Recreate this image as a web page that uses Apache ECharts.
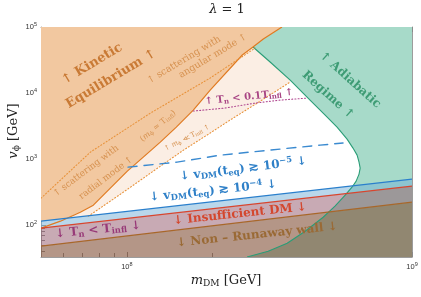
<!DOCTYPE html>
<html>
<head>
<meta charset="utf-8">
<script src="https://cdn.jsdelivr.net/npm/echarts@6.0.0/dist/echarts.min.js"></script>
<style>html,body{margin:0;padding:0;background:#fff;}#chart{width:421px;height:297px;}</style>
</head>
<body>
<div id="chart"></div>
<script>
// ---- axis ranges and ticks (GeV) ----
const xRange = [5e7, 1e9];
const yRange = [33, 1e5];
const xMajorTicks = [1e8, 1e9];
const xMinorTicks = [6e7, 7e7, 8e7, 9e7, 2e8, 3e8, 4e8, 5e8, 6e8, 7e8, 8e8, 9e8];
const yMajorTicks = [1e2, 1e3, 1e4, 1e5];
const yMinorTicks = [40, 50, 60, 70, 80, 90, 200, 300, 400, 500, 600, 700, 800, 900,
  2e3, 3e3, 4e3, 5e3, 6e3, 7e3, 8e3, 9e3, 2e4, 3e4, 4e4, 5e4, 6e4, 7e4, 8e4, 9e4];

// ---- boundary curves: [m_DM (GeV), v_phi (GeV)] ----
const kineticEdge = [[5.0e7, 90], [5.85e7, 115], [6.87e7, 157], [7.63e7, 201], [8.75e7, 364],
  [1.004e8, 658], [1.142e8, 1072], [1.31e8, 1811], [1.491e8, 3054], [1.71e8, 5530],
  [1.96e8, 1.11e4], [2.54e8, 3.77e4], [2.77e8, 4.98e4], [3.01e8, 6.58e4], [3.50e8, 1e5]];
const kineticMeetsVdm4 = [6.16e7, 127];   // where the kinetic edge crosses the v_DM 1e-4 line
const mphiEqTinfl = [[5.0e7, 256], [7.45e7, 1276], [1.21e8, 4980], [1.96e8, 1.69e4], [2.82e8, 4.81e4]];
const mphiLlTinfl = [[7.33e7, 137], [8.75e7, 231], [1.03e8, 376], [1.21e8, 614], [1.58e8, 1370],
  [1.91e8, 2310], [2.30e8, 3900], [2.94e8, 7560], [3.74e8, 1.47e4]];
const tnTenthTinfl = [[1.71e8, 5340], [2.21e8, 5930], [2.82e8, 7050], [3.45e8, 7830], [4.29e8, 8390]];
const adiabaticEdge = [[2.77e8, 4.98e4], [3.18e8, 2.95e4], [3.74e8, 1.57e4], [4.39e8, 7830],
  [4.96e8, 4640], [5.46e8, 3050], [5.92e8, 2010], [6.21e8, 1470], [6.42e8, 1150], [6.52e8, 901],
  [6.58e8, 731], [6.52e8, 593], [6.37e8, 464], [6.16e8, 376], [5.83e8, 285], [5.37e8, 194],
  [4.88e8, 132], [4.22e8, 81.1], [3.65e8, 53.4], [3.13e8, 40.4], [2.64e8, 33]];
const vdm5Edge = [[1.01e8, 757], [1.50e8, 901], [2.13e8, 1150], [3.18e8, 1370], [4.76e8, 1630], [5.73e8, 1750]];
const vdm4Edge = [[5e7, 115], [1e9, 498]];
const insufficientEdge = [[5e7, 90], [1e9, 390]];
const runawayEdge = [[5e7, 48.1], [1e9, 223]];

const lg = Math.log10;
const SERIF = '"DejaVu Serif", "Liberation Serif", serif';

function area(pts, fill, z) {
  const lp = pts.map(p => [lg(p[0]), lg(p[1])]);
  return {
    type: 'custom', coordinateSystem: 'cartesian2d', xAxisIndex: 0, yAxisIndex: 0,
    clip: true, silent: true, z: z, data: [lp[0]],
    renderItem: (params, api) => ({
      type: 'polygon', shape: { points: lp.map(p => api.coord(p)) }, style: { fill: fill }
    })
  };
}
function curve(pts, stroke, width, dash, z) {
  const lp = pts.map(p => [lg(p[0]), lg(p[1])]);
  return {
    type: 'custom', coordinateSystem: 'cartesian2d', xAxisIndex: 0, yAxisIndex: 0,
    clip: true, silent: true, z: z, data: [lp[0]],
    renderItem: (params, api) => ({
      type: 'polyline', shape: { points: lp.map(p => api.coord(p)) },
      style: { stroke: stroke, lineWidth: width, lineDash: dash || null, fill: null,
        lineCap: dash ? 'round' : 'butt', lineJoin: 'round' }
    })
  };
}

// polygons built from the curves
const kineticPoly = [[xRange[0], yRange[1]]].concat(kineticEdge.slice(2).reverse())
  .concat([kineticMeetsVdm4, vdm4Edge[0]]);
const peachPoly = [kineticMeetsVdm4].concat(kineticEdge.slice(2, 13)).concat(adiabaticEdge.slice(1, 3))
  .concat(mphiLlTinfl.slice().reverse());
const adiabaticPoly = adiabaticEdge.concat([[xRange[1], yRange[0]], [xRange[1], yRange[1]],
  kineticEdge[14], kineticEdge[13]]);
const bluePoly = [vdm4Edge[0], vdm4Edge[1], insufficientEdge[1], insufficientEdge[0]];
const mauvePoly = [insufficientEdge[0], insufficientEdge[1], runawayEdge[1], runawayEdge[0]];
const brownPoly = [runawayEdge[0], runawayEdge[1], [xRange[1], yRange[0]], [xRange[0], yRange[0]]];

function axis(pos, range, ticks, len, main, labels) {
  const o = {
    type: 'value', position: pos, min: lg(range[0]), max: lg(range[1]),
    splitLine: { show: false },
    axisLine: { show: main, onZero: false, lineStyle: { color: '#9c9c9c', width: 1 } },
    axisTick: { show: true, inside: true, length: len, customValues: ticks.map(lg),
      lineStyle: { color: '#8a8a8a', width: 1 } },
    axisLabel: { show: false }
  };
  if (labels) {
    o.axisLabel = {
      show: true, customValues: ticks.map(lg), margin: 4,
      formatter: v => '{b|10}{s|' + Math.round(v) + '}',
      rich: {
        b: { fontSize: 7.5, fontFamily: 'Liberation Sans', color: '#333' },
        s: { fontSize: 5.5, fontFamily: 'Liberation Sans', color: '#333', padding: [0, 0, 5, 0] }
      }
    };
  }
  return o;
}

function rs(size, weight, color) {
  const base = { fontSize: size, fontWeight: weight, fontFamily: SERIF, fill: color };
  return {
    n: Object.assign({}, base),
    i: Object.assign({}, base, { fontStyle: 'italic' }),
    sb: Object.assign({}, base, { fontSize: size * 0.7, padding: [size * 0.45, 0, 0, 0] }),
    sp: Object.assign({}, base, { fontSize: size * 0.7, padding: [0, 0, size * 0.55, 0] })
  };
}
function label(text, x, y, deg, size, weight, color) {
  return {
    type: 'text', x: x, y: y, rotation: deg * Math.PI / 180, z: 100, silent: true,
    style: { text: text, rich: rs(size, weight, color), align: 'center', verticalAlign: 'middle',
      font: weight + ' ' + size + 'px ' + SERIF, fill: color }
  };
}

const cKin = '#c97a35', cKinS = '#d6914f', cAd = '#3e9c75', cBlue = '#2f80c8', cRed = '#d4472e',
  cMag = '#983a78', cMag2 = '#a84584', cBrown = '#9a6a35';

const option = {
  animation: false,
  grid: { left: 41, right: 9, top: 27, bottom: 40 },
  xAxis: [
    axis('bottom', xRange, xMajorTicks, 5, true, true),
    axis('bottom', xRange, xMinorTicks, 4, false, false),
    axis('top', xRange, xMajorTicks, 5, true, false),
    axis('top', xRange, xMinorTicks, 4, false, false)
  ],
  yAxis: [
    axis('left', yRange, yMajorTicks, 5, true, true),
    axis('left', yRange, yMinorTicks, 4, false, false),
    axis('right', yRange, yMajorTicks, 5, true, false),
    axis('right', yRange, yMinorTicks, 4, false, false)
  ],
  series: [
    area(kineticPoly, '#f2c8a0', 1),
    area(peachPoly, '#fbeee4', 2),
    area(adiabaticPoly, '#a7dac9', 3),
    area(bluePoly, 'rgba(115,175,215,0.5)', 4),
    area(mauvePoly, 'rgba(145,85,105,0.5)', 4),
    area(brownPoly, 'rgba(130,80,55,0.6)', 4),
    curve(adiabaticEdge, '#2a9d77', 1.1, null, 5),
    curve(kineticEdge, '#e07a20', 1.2, null, 5),
    curve(mphiEqTinfl, '#e8923a', 1.1, [1, 2.2], 5),
    curve(mphiLlTinfl, '#e8923a', 1.1, [1, 2.2], 5),
    curve(tnTenthTinfl, '#b04890', 1.1, [1, 2.2], 5),
    curve(vdm4Edge, '#2a7fcc', 1.3, null, 6),
    curve(insufficientEdge, '#d8452e', 1.2, null, 6),
    curve(runawayEdge, '#a8672a', 1.2, null, 6),
    curve(vdm5Edge, '#3a8ad0', 1.4, [9, 7], 6)
  ],
  graphic: [
    label('{i|λ}{n| = 1}', 227, 10, 0, 13, 'normal', '#222'),
    label('{i|m}{sb|DM}{n| [GeV]}', 226, 281, 0, 13, 'normal', '#222'),
    label('{i|v}{sb|ϕ}{n| [GeV]}', 14, 131, 90, 13, 'normal', '#222'),
    label('{n|↑ Kinetic}', 92, 64, 31, 13, 'bold', cKin),
    label('{n|Equilibrium ↑}', 111, 79, 31, 13, 'bold', cKin),
    label('{n|↑ scattering with}', 184, 60, 31, 9.5, 'normal', cKinS),
    label('{n|angular mode ↑}', 213, 56, 31, 9.5, 'normal', cKinS),
    label('{n|↑ scattering with}', 86, 171, 37, 9, 'normal', cKinS),
    label('{n|radial mode ↑}', 106, 178, 37, 9, 'normal', cKinS),
    label('{n|(}{i|m}{sb|ϕ}{n| ≃ T}{sb|infl}{n|)}', 158, 126, 40, 8, 'normal', cKinS),
    label('{n|↑ }{i|m}{sb|ϕ}{n| ≪ T}{sb|infl}{n| ↑}', 187, 138, 27, 7, 'normal', cKinS),
    label('{n|↑ T}{sb|n}{n| < 0.1T}{sb|infl}{n| ↑}', 249, 97, 6, 10, 'bold', cMag2),
    label('{n|↑ Adiabatic}', 350, 80, -42, 12, 'bold', cAd),
    label('{n|Regime ↑}', 328, 95, -42, 12, 'bold', cAd),
    label('{n|↓ v}{sb|DM}{n|(t}{sb|eq}{n|) ≳ 10}{sp|−5}{n| ↓}', 243, 169, 7, 12, 'bold', cBlue),
    label('{n|↓ v}{sb|DM}{n|(t}{sb|eq}{n|) ≳ 10}{sp|−4}{n| ↓}', 213, 191, 6, 12, 'bold', cBlue),
    label('{n|↓ Insufficient DM ↓}', 240, 214, 6, 12, 'bold', cRed),
    label('{n|↓ T}{sb|n}{n| < T}{sb|infl}{n| ↓}', 98, 230, 6, 12, 'bold', cMag),
    label('{n|↓ Non – Runaway wall ↓}', 257, 235, 6, 12, 'bold', cBrown)
  ]
};
const chart = echarts.init(document.getElementById('chart'));
chart.setOption(option);
</script>
</body>
</html>
